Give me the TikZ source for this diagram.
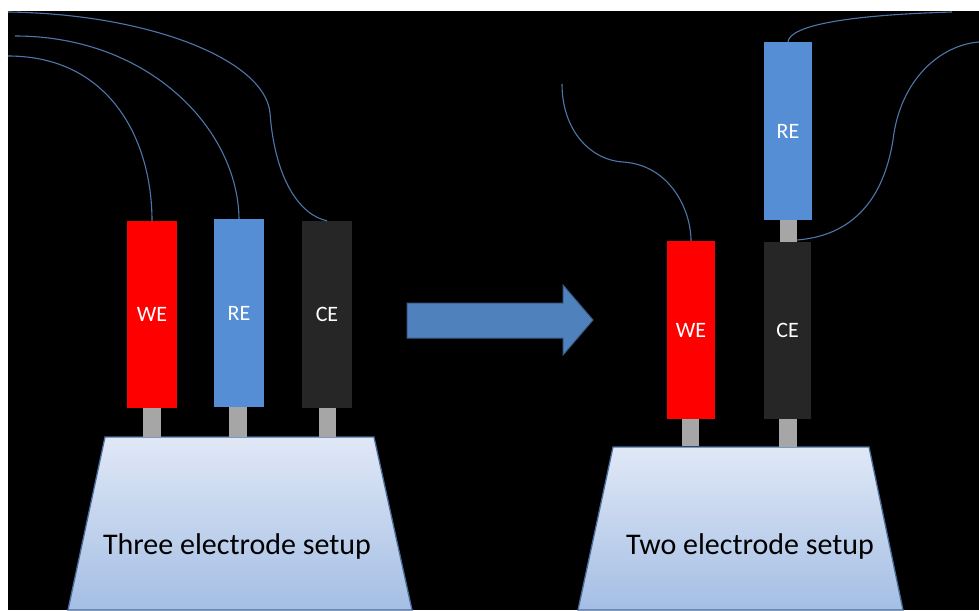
\documentclass[tikz,border=0pt]{standalone}
\usepackage{fontspec}
\setmainfont{Carlito}
\begin{document}
\begin{tikzpicture}[x=1pt,y=-1pt,
  electrode/.style={draw=none,inner sep=0pt,text=white,font=\fontsize{22}{22}\selectfont},
  stem/.style={fill=stemgrey,draw=none,inner sep=0pt,minimum width=17.5pt},
  wire/.style={draw=wireblue,line width=1.1pt},
  base/.style={draw=baseedge,line width=1.3pt,top color=basetop,bottom color=basebot},
  basetext/.style={font=\fontsize{30}{30}\selectfont,text=black,inner sep=0pt}]
\definecolor{wireblue}{RGB}{79,118,171}
\definecolor{reblue}{RGB}{85,142,213}
\definecolor{wered}{RGB}{255,0,0}
\definecolor{cedark}{RGB}{38,38,38}
\definecolor{stemgrey}{RGB}{166,166,166}
\definecolor{baseedge}{RGB}{74,109,156}
\definecolor{basetop}{RGB}{224,232,246}
\definecolor{basebot}{RGB}{164,190,228}
\definecolor{arrowfill}{RGB}{79,129,189}
\definecolor{arrowedge}{RGB}{56,93,138}
\useasboundingbox (0,0) rectangle (979,610);
\fill[white] (0,0) rectangle (979,610);
\fill[black] (8,11) rectangle (979,610);
% bases
\shade[base] (105,437) -- (374,437) -- (412,610) -- (68,610) -- cycle;
\shade[base] (613,447) -- (869,447) -- (903,610) -- (578,610) -- cycle;
\node[basetext] (t1) at (237,546) {Three electrode setup};
\node[basetext] (t2) at (750,546) {Two electrode setup};
% left electrodes
\node[electrode,fill=wered,minimum width=50pt,minimum height=187pt] (we1) at (152,314.5) {WE};
\node[electrode,fill=reblue,minimum width=50pt,minimum height=188pt] (re1) at (239,313) {RE};
\node[electrode,fill=cedark,minimum width=50pt,minimum height=187pt] (ce1) at (327,314.5) {CE};
\node[stem,minimum height=29pt] (s1) at (152,422.5) {};
\node[stem,minimum height=30pt] (s2) at (238,422) {};
\node[stem,minimum height=29pt] (s3) at (327.5,422.5) {};
% right electrodes
\node[electrode,fill=wered,minimum width=48pt,minimum height=178pt] (we2) at (691,330) {WE};
\node[electrode,fill=cedark,minimum width=47pt,minimum height=177pt] (ce2) at (787.5,330.5) {CE};
\node[electrode,fill=reblue,minimum width=48pt,minimum height=178pt] (re2) at (788,131) {RE};
\node[stem,minimum height=27pt] (s4) at (690.5,432.5) {};
\node[stem,minimum height=28pt] (s5) at (788,433) {};
\node[stem,minimum height=22pt] (s6) at (788.5,231) {};
% wire free ends
\coordinate (wa) at (8,56);
\coordinate (wb) at (15,36);
\coordinate (wc) at (8,12);
\coordinate (wd) at (562,84);
\coordinate (we) at (952,12);
\coordinate (wf) at (979,42);
\coordinate (cetop) at (797,240);
% wires left
\draw[wire] (wa) .. controls (110,56) and (152,140) .. (we1.north);
\draw[wire] (wb) .. controls (150,36) and (238,130) .. (re1.north);
\draw[wire] (wc) .. controls (150,14) and (265,60) .. (270,113) .. controls (275,180) and (300,215) .. (ce1.north);
% wires right
\draw[wire] (wd) .. controls (562,130) and (590,160) .. (623,162) .. controls (670,165) and (691,210) .. (we2.north);
\draw[wire] (re2.north) .. controls (790,25) and (850,15) .. (we);
\draw[wire] (cetop) .. controls (860,235) and (885,190) .. (893,140) .. controls (900,80) and (940,45) .. (wf);
% arrow
\draw[fill=arrowfill,draw=arrowedge,line width=1pt] (407,303) -- (563,303) -- (563,285) -- (593,320) -- (563,355) -- (563,338) -- (407,338) -- cycle;
\end{tikzpicture}
\end{document}
